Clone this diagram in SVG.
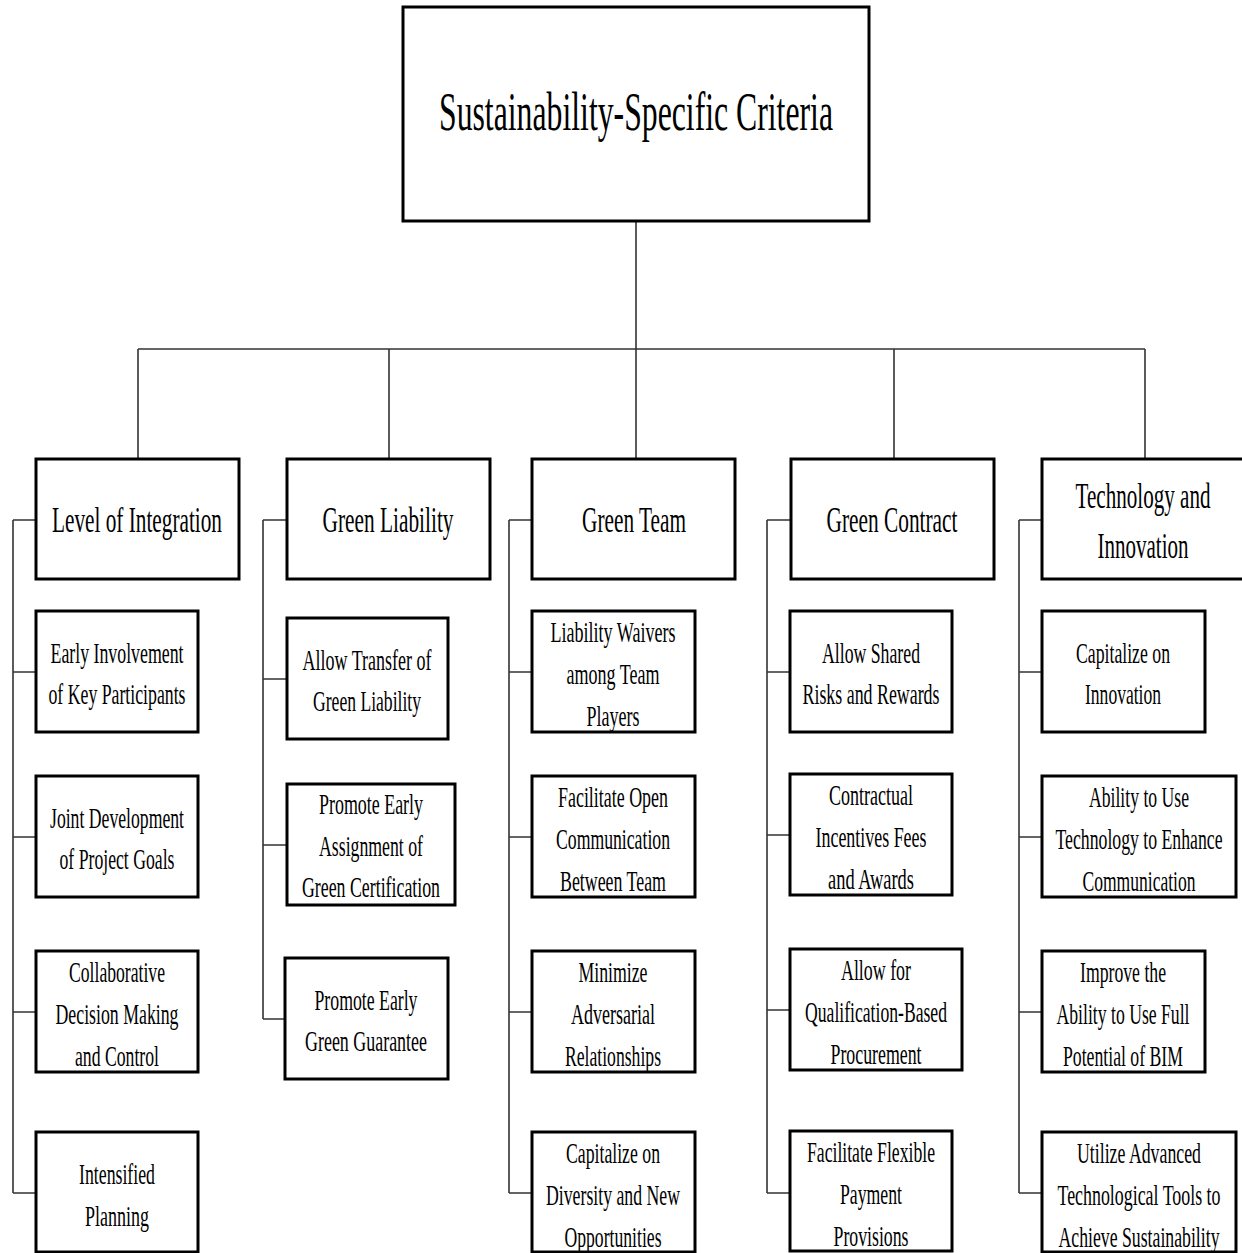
<svg xmlns="http://www.w3.org/2000/svg" width="1242" height="1253" viewBox="0 0 1242 1253">
<style>
.box{fill:#fff;stroke:#000;stroke-width:3}
.con{fill:none;stroke:#333;stroke-width:1.6}
text{font-family:"Liberation Serif","Times New Roman",serif;fill:#000;text-anchor:middle}
.c{font-size:30px}
.h{font-size:36px}
.r{font-size:54px}
</style>
<rect width="1242" height="1253" fill="#fff"/>
<g id="connectors">
<path class="con" d="M636,221V349M138,349H1145M138,349V459M389,349V459M636,349V459M894,349V459M1145,349V459"/>
<path class="con" d="M13,520V1193M13,520H36M13,672H36M13,837H36M13,1012H36M13,1193H36"/>
<path class="con" d="M263,520V1019M263,520H287M263,679H287M263,845H287M263,1019H285"/>
<path class="con" d="M509,520V1193M509,520H532M509,672H532M509,837H532M509,1012H532M509,1193H532"/>
<path class="con" d="M767,520V1193M767,520H791M767,672H790M767,835H790M767,1010H790M767,1193H790"/>
<path class="con" d="M1019,520V1193M1019,520H1042M1019,672H1042M1019,837H1042M1019,1012H1042M1019,1193H1042"/>
</g>
<g id="root"><rect class="box" x="403" y="7" width="466" height="214"/><text class="r" x="636" y="130" textLength="394" lengthAdjust="spacingAndGlyphs">Sustainability-Specific Criteria</text></g>
<g id="h1"><rect class="box" x="36" y="459" width="203" height="120"/><text class="h" x="137" y="532" textLength="170" lengthAdjust="spacingAndGlyphs">Level of Integration</text></g>
<g id="h2"><rect class="box" x="287" y="459" width="203" height="120"/><text class="h" x="388" y="532" textLength="131" lengthAdjust="spacingAndGlyphs">Green Liability</text></g>
<g id="h3"><rect class="box" x="532" y="459" width="203" height="120"/><text class="h" x="634" y="532" textLength="104" lengthAdjust="spacingAndGlyphs">Green Team</text></g>
<g id="h4"><rect class="box" x="791" y="459" width="203" height="120"/><text class="h" x="892" y="532" textLength="131" lengthAdjust="spacingAndGlyphs">Green Contract</text></g>
<g id="h5"><rect class="box" x="1042" y="459" width="206" height="120"/><text class="h" x="1143" y="508" textLength="135" lengthAdjust="spacingAndGlyphs">Technology and</text><text class="h" x="1143" y="558" textLength="91" lengthAdjust="spacingAndGlyphs">Innovation</text></g>

<g id="c1a"><rect class="box" x="36" y="611" width="162" height="121"/><text class="c" x="117" y="663" textLength="133" lengthAdjust="spacingAndGlyphs">Early Involvement</text><text class="c" x="117" y="704" textLength="137" lengthAdjust="spacingAndGlyphs">of Key Participants</text></g>
<g id="c1b"><rect class="box" x="36" y="776" width="162" height="121"/><text class="c" x="117" y="828" textLength="134" lengthAdjust="spacingAndGlyphs">Joint Development</text><text class="c" x="117" y="869" textLength="115" lengthAdjust="spacingAndGlyphs">of Project Goals</text></g>
<g id="c1c"><rect class="box" x="36" y="951" width="162" height="121"/><text class="c" x="117" y="982" textLength="96" lengthAdjust="spacingAndGlyphs">Collaborative</text><text class="c" x="117" y="1024" textLength="123" lengthAdjust="spacingAndGlyphs">Decision Making</text><text class="c" x="117" y="1066" textLength="84" lengthAdjust="spacingAndGlyphs">and Control</text></g>
<g id="c1d"><rect class="box" x="36" y="1132" width="162" height="120"/><text class="c" x="117" y="1184" textLength="76" lengthAdjust="spacingAndGlyphs">Intensified</text><text class="c" x="117" y="1226" textLength="64" lengthAdjust="spacingAndGlyphs">Planning</text></g>

<g id="c2a"><rect class="box" x="287" y="618" width="161" height="121"/><text class="c" x="367" y="670" textLength="129" lengthAdjust="spacingAndGlyphs">Allow Transfer of</text><text class="c" x="367" y="711" textLength="108" lengthAdjust="spacingAndGlyphs">Green Liability</text></g>
<g id="c2b"><rect class="box" x="287" y="784" width="168" height="121"/><text class="c" x="371" y="814" textLength="104" lengthAdjust="spacingAndGlyphs">Promote Early</text><text class="c" x="371" y="856" textLength="104" lengthAdjust="spacingAndGlyphs">Assignment of</text><text class="c" x="371" y="897" textLength="138" lengthAdjust="spacingAndGlyphs">Green Certification</text></g>
<g id="c2c"><rect class="box" x="285" y="958" width="163" height="121"/><text class="c" x="366" y="1010" textLength="103" lengthAdjust="spacingAndGlyphs">Promote Early</text><text class="c" x="366" y="1051" textLength="122" lengthAdjust="spacingAndGlyphs">Green Guarantee</text></g>

<g id="c3a"><rect class="box" x="532" y="611" width="163" height="121"/><text class="c" x="613" y="642" textLength="125" lengthAdjust="spacingAndGlyphs">Liability Waivers</text><text class="c" x="613" y="684" textLength="93" lengthAdjust="spacingAndGlyphs">among Team</text><text class="c" x="613" y="726" textLength="53" lengthAdjust="spacingAndGlyphs">Players</text></g>
<g id="c3b"><rect class="box" x="532" y="776" width="163" height="121"/><text class="c" x="613" y="807" textLength="110" lengthAdjust="spacingAndGlyphs">Facilitate Open</text><text class="c" x="613" y="849" textLength="114" lengthAdjust="spacingAndGlyphs">Communication</text><text class="c" x="613" y="891" textLength="106" lengthAdjust="spacingAndGlyphs">Between Team</text></g>
<g id="c3c"><rect class="box" x="532" y="951" width="163" height="121"/><text class="c" x="613" y="982" textLength="69" lengthAdjust="spacingAndGlyphs">Minimize</text><text class="c" x="613" y="1024" textLength="84" lengthAdjust="spacingAndGlyphs">Adversarial</text><text class="c" x="613" y="1066" textLength="96" lengthAdjust="spacingAndGlyphs">Relationships</text></g>
<g id="c3d"><rect class="box" x="532" y="1132" width="163" height="120"/><text class="c" x="613" y="1163" textLength="94" lengthAdjust="spacingAndGlyphs">Capitalize on</text><text class="c" x="613" y="1205" textLength="134" lengthAdjust="spacingAndGlyphs">Diversity and New</text><text class="c" x="613" y="1247" textLength="97" lengthAdjust="spacingAndGlyphs">Opportunities</text></g>

<g id="c4a"><rect class="box" x="790" y="611" width="162" height="121"/><text class="c" x="871" y="663" textLength="98" lengthAdjust="spacingAndGlyphs">Allow Shared</text><text class="c" x="871" y="704" textLength="137" lengthAdjust="spacingAndGlyphs">Risks and Rewards</text></g>
<g id="c4b"><rect class="box" x="790" y="774" width="162" height="121"/><text class="c" x="871" y="805" textLength="84" lengthAdjust="spacingAndGlyphs">Contractual</text><text class="c" x="871" y="847" textLength="111" lengthAdjust="spacingAndGlyphs">Incentives Fees</text><text class="c" x="871" y="889" textLength="86" lengthAdjust="spacingAndGlyphs">and Awards</text></g>
<g id="c4c"><rect class="box" x="790" y="949" width="172" height="121"/><text class="c" x="876" y="980" textLength="70" lengthAdjust="spacingAndGlyphs">Allow for</text><text class="c" x="876" y="1022" textLength="142" lengthAdjust="spacingAndGlyphs">Qualification-Based</text><text class="c" x="876" y="1064" textLength="91" lengthAdjust="spacingAndGlyphs">Procurement</text></g>
<g id="c4d"><rect class="box" x="790" y="1131" width="162" height="120"/><text class="c" x="871" y="1162" textLength="128" lengthAdjust="spacingAndGlyphs">Facilitate Flexible</text><text class="c" x="871" y="1204" textLength="62" lengthAdjust="spacingAndGlyphs">Payment</text><text class="c" x="871" y="1246" textLength="75" lengthAdjust="spacingAndGlyphs">Provisions</text></g>

<g id="c5a"><rect class="box" x="1042" y="611" width="163" height="121"/><text class="c" x="1123" y="663" textLength="94" lengthAdjust="spacingAndGlyphs">Capitalize on</text><text class="c" x="1123" y="704" textLength="76" lengthAdjust="spacingAndGlyphs">Innovation</text></g>
<g id="c5b"><rect class="box" x="1042" y="776" width="194" height="121"/><text class="c" x="1139" y="807" textLength="100" lengthAdjust="spacingAndGlyphs">Ability to Use</text><text class="c" x="1139" y="849" textLength="167" lengthAdjust="spacingAndGlyphs">Technology to Enhance</text><text class="c" x="1139" y="891" textLength="113" lengthAdjust="spacingAndGlyphs">Communication</text></g>
<g id="c5c"><rect class="box" x="1042" y="951" width="163" height="121"/><text class="c" x="1123" y="982" textLength="86" lengthAdjust="spacingAndGlyphs">Improve the</text><text class="c" x="1123" y="1024" textLength="133" lengthAdjust="spacingAndGlyphs">Ability to Use Full</text><text class="c" x="1123" y="1066" textLength="120" lengthAdjust="spacingAndGlyphs">Potential of BIM</text></g>
<g id="c5d"><rect class="box" x="1042" y="1132" width="194" height="120"/><text class="c" x="1139" y="1163" textLength="124" lengthAdjust="spacingAndGlyphs">Utilize Advanced</text><text class="c" x="1139" y="1205" textLength="163" lengthAdjust="spacingAndGlyphs">Technological Tools to</text><text class="c" x="1139" y="1247" textLength="161" lengthAdjust="spacingAndGlyphs">Achieve Sustainability</text></g>
</svg>
